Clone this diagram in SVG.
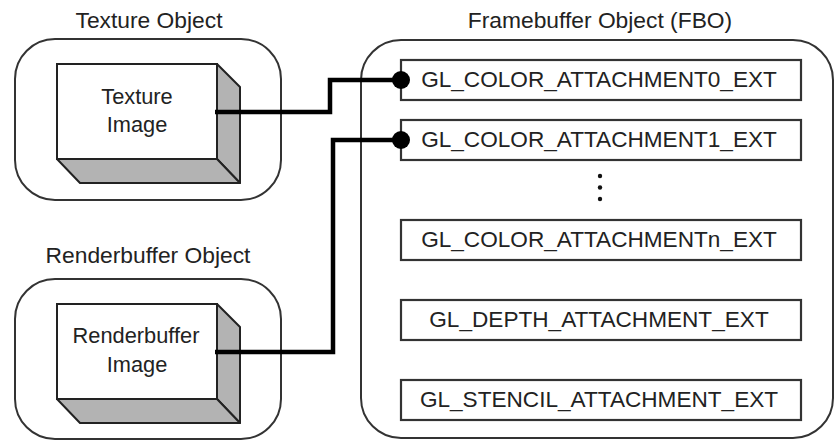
<svg xmlns="http://www.w3.org/2000/svg" width="835" height="440" viewBox="0 0 835 440">
<style>
  text { font-family: "Liberation Sans", Arial, sans-serif; fill: #222; text-anchor: middle; }
  .lbl { font-size: 22.8px; }
  .img { font-size: 21.8px; }
  .att { font-size: 22.6px; }
  .outer { fill: #fff; stroke: #333; stroke-width: 2; }
  .front { fill: #fff; stroke: #222; stroke-width: 2; }
  .side { fill: #b3b3b3; stroke: #222; stroke-width: 2; stroke-linejoin: round; }
  .box { fill: #fff; stroke: #333; stroke-width: 2.2; }
  .conn { fill: none; stroke: #000; stroke-width: 4.5; stroke-linejoin: miter; }
  .dot { fill: #000; }
</style>
<rect width="835" height="440" fill="#fff"/>

<g id="texture-object">
  <text class="lbl" x="149" y="28">Texture Object</text>
  <rect class="outer" x="15" y="39" width="266" height="161" rx="40" ry="40"/>
  <g id="texture-image">
    <polygon class="side" points="217,64 240,87 240,183 217,159"/>
    <polygon class="side" points="57,159 80,183 240,183 217,159"/>
    <rect class="front" x="57" y="64" width="160" height="95"/>
    <text class="img" x="137" y="104">Texture</text>
    <text class="img" x="137" y="132">Image</text>
  </g>
</g>

<g id="renderbuffer-object">
  <text class="lbl" x="148" y="263">Renderbuffer Object</text>
  <rect class="outer" x="15" y="279" width="266" height="160" rx="40" ry="40"/>
  <g id="renderbuffer-image">
    <polygon class="side" points="217,304 240,327 240,423 217,399"/>
    <polygon class="side" points="57,399 80,423 240,423 217,399"/>
    <rect class="front" x="57" y="304" width="160" height="95"/>
    <text class="img" x="136" y="343">Renderbuffer</text>
    <text class="img" x="137" y="372">Image</text>
  </g>
</g>

<g id="fbo">
  <text class="lbl" x="600" y="28">Framebuffer Object (FBO)</text>
  <rect class="outer" x="361" y="40" width="472" height="398" rx="40" ry="40"/>
  <g id="att0">
    <rect class="box" x="401" y="60" width="400" height="40"/>
    <text class="att" x="599" y="87">GL_COLOR_ATTACHMENT0_EXT</text>
  </g>
  <g id="att1">
    <rect class="box" x="401" y="120" width="400" height="40"/>
    <text class="att" x="599" y="147">GL_COLOR_ATTACHMENT1_EXT</text>
  </g>
  <g id="ellipsis">
    <circle cx="600" cy="176" r="2.2" fill="#111"/>
    <circle cx="600" cy="187.5" r="2.2" fill="#111"/>
    <circle cx="600" cy="199" r="2.2" fill="#111"/>
  </g>
  <g id="attn">
    <rect class="box" x="401" y="220" width="400" height="40"/>
    <text class="att" x="599" y="247">GL_COLOR_ATTACHMENTn_EXT</text>
  </g>
  <g id="depth">
    <rect class="box" x="401" y="300" width="400" height="40"/>
    <text class="att" x="599" y="327">GL_DEPTH_ATTACHMENT_EXT</text>
  </g>
  <g id="stencil">
    <rect class="box" x="401" y="380" width="400" height="40"/>
    <text class="att" x="599" y="407">GL_STENCIL_ATTACHMENT_EXT</text>
  </g>
</g>

<g id="connectors">
  <polyline class="conn" points="215,112 330,112 330,80 401,80"/>
  <circle class="dot" cx="401" cy="80" r="9"/>
  <polyline class="conn" points="215,352 333,352 333,140 401,140"/>
  <circle class="dot" cx="401" cy="140" r="9"/>
</g>
</svg>
